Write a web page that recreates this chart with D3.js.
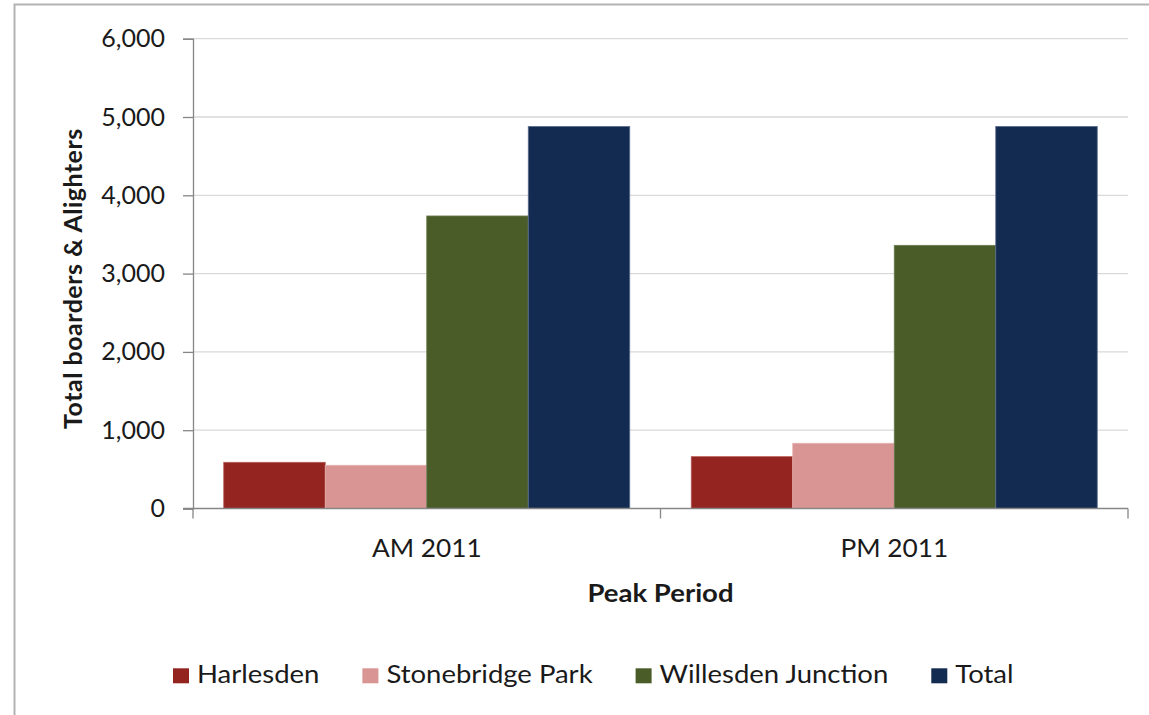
<!DOCTYPE html>
<html>
<head>
<meta charset="utf-8">
<script src="https://cdn.jsdelivr.net/npm/d3@7/dist/d3.min.js"></script>
<style>
  html, body { margin: 0; padding: 0; background: #ffffff; }
  svg { display: block; }
  text { font-family: Lato, "Open Sans", sans-serif; fill: #1a1a1a; }
</style>
</head>
<body>
<svg id="chart" width="1149" height="715"></svg>
<script>
// Peak-period boarders and alighters by station, 2011
const periods = ["AM 2011", "PM 2011"];
const stations = ["Harlesden", "Stonebridge Park", "Willesden Junction", "Total"];
const harlesden = [590, 662];
const stonebridgePark = [552, 833];
const willesdenJunction = [3736, 3361];
const total = [4880, 4880];
const yTicks = [0, 1000, 2000, 3000, 4000, 5000, 6000];
const colors = ["#93241f", "#d99594", "#4a5d29", "#142b51"];
const strokes = ["#b55a57", "#e3b1b0", "#6b7c4e", "#5d6f8f"];

const seriesValues = [harlesden, stonebridgePark, willesdenJunction, total];

const W = 1149, H = 715;
const plot = { left: 193, right: 1128, top: 38.7, bottom: 508.5 };
const FONT = 25;
const WIDE = 1.1;   // horizontal widening of label glyphs

const svg = d3.select("#chart");

// chart frame
svg.append("rect")
  .attr("x", 14.5).attr("y", 4.5)
  .attr("width", W + 20).attr("height", H + 20)
  .attr("fill", "#ffffff")
  .attr("stroke", "#b3b3b3").attr("stroke-width", 2);

const x0 = d3.scaleBand().domain(periods).range([plot.left, plot.right]).padding(0);
const x1 = d3.scaleBand().domain(stations).range([0, x0.bandwidth()])
  .paddingInner(0).paddingOuter(0.303);
const y = d3.scaleLinear().domain([0, 6000]).range([plot.bottom, plot.top]);

// horizontal gridlines
svg.append("g").selectAll("line")
  .data(yTicks.filter(d => d > 0))
  .join("line")
  .attr("x1", plot.left).attr("x2", plot.right)
  .attr("y1", d => y(d)).attr("y2", d => y(d))
  .attr("stroke", "#d9d9d9").attr("stroke-width", 1.3);

// bars
const rows = periods.map((p, i) => ({
  period: p,
  values: stations.map((s, j) => ({ station: s, idx: j, value: seriesValues[j][i] }))
}));

svg.append("g").selectAll("g")
  .data(rows)
  .join("g")
  .attr("transform", d => `translate(${x0(d.period)},0)`)
  .selectAll("rect")
  .data(d => d.values)
  .join("rect")
  .attr("x", d => x1(d.station))
  .attr("width", x1.bandwidth())
  .attr("y", d => y(d.value))
  .attr("height", d => y(0) - y(d.value))
  .attr("fill", d => colors[d.idx])
  .attr("stroke", d => strokes[d.idx])
  .attr("stroke-width", 0.8);

// y axis
const yAxis = d3.axisLeft(y)
  .tickValues(yTicks)
  .tickSize(10)
  .tickPadding(18)
  .tickFormat(d3.format(","));
const gy = svg.append("g").attr("transform", `translate(${plot.left},0)`).call(yAxis);
gy.select(".domain").attr("stroke", "#868686").attr("stroke-width", 1.3);
gy.selectAll(".tick line").attr("stroke", "#868686").attr("stroke-width", 1.3);
gy.selectAll(".tick text")
  .attr("font-size", FONT).attr("font-family", "Lato, sans-serif").attr("fill", "#1a1a1a");

// x axis: baseline with ticks at category boundaries
const gx = svg.append("g").attr("transform", `translate(0,${plot.bottom})`);
gx.append("line")
  .attr("x1", plot.left - 10).attr("x2", plot.right)
  .attr("stroke", "#868686").attr("stroke-width", 1.3);
const bounds = periods.map(p => x0(p)).concat([x0(periods[periods.length - 1]) + x0.bandwidth()]);
gx.selectAll("line.tick")
  .data(bounds)
  .join("line")
  .attr("class", "tick")
  .attr("x1", d => d).attr("x2", d => d)
  .attr("y1", 0).attr("y2", 10)
  .attr("stroke", "#868686").attr("stroke-width", 1.3);
gx.selectAll("text")
  .data(periods)
  .join("text")
  .attr("transform", d => `translate(${x0(d) + x0.bandwidth() / 2},48) scale(1.05,1)`)
  .attr("text-anchor", "middle")
  .attr("font-size", FONT)
  .text(d => d);

// axis titles
svg.append("text")
  .attr("transform", `translate(${(plot.left + plot.right) / 2},601.5) scale(${WIDE},1)`)
  .attr("text-anchor", "middle")
  .attr("font-size", FONT)
  .attr("font-weight", "bold")
  .text("Peak Period");

const yTitle = svg.append("text")
  .attr("font-size", FONT)
  .attr("font-weight", "bold")
  .attr("letter-spacing", 0.5)
  .text("Total boarders & Alighters");
const yTitleLen = yTitle.node().getComputedTextLength();
yTitle.attr("transform", `translate(81.5,${(plot.top + plot.bottom) / 2 + 5 + yTitleLen / 2}) rotate(-90)`);

// legend
const legend = svg.append("g").attr("transform", "translate(173,683.3)");
let lx = 0;
stations.forEach((s, i) => {
  const g = legend.append("g").attr("transform", `translate(${lx},0)`);
  g.append("rect")
    .attr("x", 0).attr("y", -15)
    .attr("width", 16).attr("height", 15)
    .attr("fill", colors[i]);
  const t = g.append("text")
    .attr("transform", `translate(24,0) scale(${WIDE},1)`)
    .attr("font-size", FONT)
    .text(s);
  lx += 24 + t.node().getComputedTextLength() * WIDE + 43;
});
</script>
</body>
</html>
